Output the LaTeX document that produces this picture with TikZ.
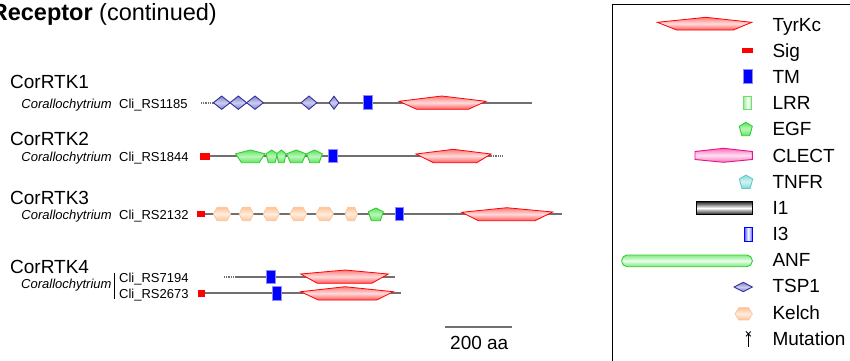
\documentclass[tikz,border=0pt]{standalone}
\usepackage{fontspec}
\setmainfont{Liberation Sans}
\definecolor{bb}{RGB}{112,112,112}
\definecolor{tyrE}{RGB}{255,90,90}
\definecolor{tspD}{RGB}{51,51,153}
\definecolor{tspF}{RGB}{130,130,210}
\definecolor{egfD}{RGB}{51,204,51}
\definecolor{egfF}{RGB}{90,230,90}
\definecolor{kelD}{RGB}{250,195,150}
\definecolor{kelF}{RGB}{255,195,150}
\definecolor{clD}{RGB}{230,20,140}
\definecolor{clF}{RGB}{255,110,190}
\definecolor{tnD}{RGB}{100,200,200}
\definecolor{tnF}{RGB}{130,220,220}
\newcommand{\DomTyr}[9]{\path[tyr] (#1,#2) -- (#3,#4) -- (#5,#6) -- (#8,#9) -- (#7,#9) -- cycle;}
\newcommand{\DomDia}[5]{\path[#5] ({#1-#3/2},#2) -- (#1,{#2-#4/2}) -- ({#1+#3/2},#2) -- (#1,{#2+#4/2}) -- cycle;}
\newcommand{\DomHex}[5]{\path[#5] ({#1-#3/2},#2) -- ({#1-0.28*#3},{#2-#4/2}) -- ({#1+0.28*#3},{#2-#4/2}) -- ({#1+#3/2},#2) -- ({#1+0.28*#3},{#2+#4/2}) -- ({#1-0.28*#3},{#2+#4/2}) -- cycle;}
\newcommand{\DomPent}[5]{\path[#5] (#1,{#2-#4/2}) -- ({#1+#3/2},{#2-0.2*#4}) -- ({#1+0.3*#3},{#2+#4/2}) -- ({#1-0.3*#3},{#2+#4/2}) -- ({#1-#3/2},{#2-0.2*#4}) -- cycle;}
\tikzset{
  backbone/.style={draw=bb, line width=1.9},
  dotbone/.style={draw=bb, line width=1.6, dash pattern=on 0.9pt off 0.9pt},
  tyr/.style={draw=red, line width=0.8, top color=tyrE!80, bottom color=tyrE, middle color=red!14},
  tsp/.style={draw=tspD, line width=0.9, top color=tspF, bottom color=tspF, middle color=tspF!40},
  egf/.style={draw=egfD, line width=0.9, top color=egfF, bottom color=egfF, middle color=egfF!40},
  kel/.style={draw=kelD, line width=0.7, top color=kelF, bottom color=kelF, middle color=kelF!30},
  tm/.style={fill=blue, draw=blue!45, line width=0.5},
  sig/.style={fill=red},
  lab/.style={inner sep=0pt, font=\fontsize{19}{22}\selectfont},
  small/.style={inner sep=0pt, font=\fontsize{13}{15}\selectfont},
  legtext/.style={inner sep=0pt, anchor=base west, font=\fontsize{19}{22}\selectfont},
}
\begin{document}
\begin{tikzpicture}[x=1pt,y=-1pt]
\useasboundingbox (0,0) rectangle (850,360);

% heading
\node[inner sep=0pt, anchor=base east, font=\fontsize{23.5}{27}\selectfont] (head) at (217,20) {\textbf{Receptor} (continued)};

% ---------- row 1
\node[lab, anchor=base west] (t1) at (10,88) {CorRTK1};
\node[small, anchor=base east] (s1) at (112,108) {\textit{Corallochytrium}};
\node[small, anchor=base west] (c1) at (119,108) {Cli\_RS1185};
\path[dotbone] (201,102.7) -- (213,102.7);
\path[backbone] (213,102.7) -- (532,102.7);
\DomDia{221.7}{102.7}{16.7}{13.3}{tsp}
\DomDia{238.3}{102.7}{16.7}{13.3}{tsp}
\DomDia{255}{102.7}{16.7}{13.3}{tsp}
\DomDia{309}{102.7}{15.7}{13.3}{tsp}
\DomDia{334}{102.7}{9.7}{13}{tsp}
\path[tm] (363.3,95.7) rectangle (372,109.3);
\DomTyr{399}{101.3}{441.7}{96}{486}{101.3}{416.7}{468.3}{109.3}

% ---------- row 2
\node[lab, anchor=base west] (t2) at (10,145) {CorRTK2};
\node[small, anchor=base east] (s2) at (112,161) {\textit{Corallochytrium}};
\node[small, anchor=base west] (c2) at (119,161) {Cli\_RS1844};
\path[backbone] (205,156) -- (491,156);
\path[dotbone] (491,156) -- (503,156);
\path[sig] (200,152.7) rectangle (210,160);
\DomPent{250.3}{156.35}{29.3}{12.7}{egf}
\DomPent{271.7}{156.35}{11.3}{12.7}{egf}
\DomPent{281.3}{156.35}{9.3}{12.7}{egf}
\DomPent{296.3}{156.35}{19.3}{12.7}{egf}
\DomPent{314.5}{156.35}{15.6}{12.7}{egf}
\path[tm] (328,149.3) rectangle (337,162.7);
\DomTyr{416}{154}{453.3}{149.3}{491}{154}{433.3}{476.7}{162.7}

% ---------- row 3
\node[lab, anchor=base west] (t3) at (10,204) {CorRTK3};
\node[small, anchor=base east] (s3) at (112,219) {\textit{Corallochytrium}};
\node[small, anchor=base west] (c3) at (119,219) {Cli\_RS2132};
\path[backbone] (202,213.7) -- (562.3,213.7);
\path[sig] (197.3,210.7) rectangle (205,217.3);
\DomHex{222}{214}{17.4}{13.4}{kel}
\DomHex{246.3}{214}{14}{13.4}{kel}
\DomHex{271.3}{214}{16}{13.4}{kel}
\DomHex{298.3}{214}{16.7}{13.4}{kel}
\DomHex{324.7}{214}{17.3}{13.4}{kel}
\DomHex{351.2}{214}{12.3}{13.4}{kel}
\DomPent{375.8}{214.35}{15}{12.7}{egf}
\path[tm] (395,207.3) rectangle (403.7,220.7);
\DomTyr{461.7}{212.3}{506.7}{207.7}{552.7}{212}{478.3}{535}{220.7}

% ---------- row 4
\node[lab, anchor=base west] (t4) at (10,273.3) {CorRTK4};
\node[small, anchor=base east] (s4) at (111.7,288.3) {\textit{Corallochytrium}};
\coordinate (bartop) at (114.3,272.7);
\coordinate (barbot) at (114.3,299.3);
\draw[line width=1.1] (bartop) -- (barbot);
\node[small, anchor=base west] (c4a) at (119,282) {Cli\_RS7194};
\node[small, anchor=base west] (c4b) at (119,298.3) {Cli\_RS2673};
\path[dotbone] (224,276.7) -- (236,276.7);
\path[backbone] (236,276.7) -- (395,276.7);
\path[tm] (266,270) rectangle (275,283.3);
\DomTyr{300.7}{274}{345}{270}{388.3}{274}{317.3}{371.7}{283.3}
\path[backbone] (203,293.3) -- (400.7,293.3);
\path[sig] (198.3,290) rectangle (205,296.7);
\path[tm] (272.7,286.7) rectangle (281.7,300);
\DomTyr{300.7}{291.7}{345}{286.7}{393.3}{291.7}{318.3}{376.7}{300}

% scale bar
\coordinate (sbl) at (445,326.7);
\coordinate (sbr) at (511.7,326.7);
\draw[bb, line width=2] (sbl) -- (sbr);
\node[lab, anchor=base west] (sbt) at (450,349.3) {200 aa};

% ---------- legend
\draw[line width=1.4] (612.7,362) -- (612.7,4.7) -- (852,4.7);
\DomTyr{657.3}{22.3}{706}{17.3}{751.7}{22.3}{676.7}{733.3}{30}
\node[legtext] (l1) at (772.3,31.3) {TyrKc};
\path[sig] (741.7,47.7) rectangle (752.7,53.3);
\node[legtext] (l2) at (772.3,57.5) {Sig};
\path[tm] (743.3,69.3) rectangle (752.3,83.3);
\node[legtext] (l3) at (772.3,83.6) {TM};
\path[draw=egfD!70, line width=0.8, left color=egfF!60, right color=egfF!60, middle color=white] (743.8,96.7) rectangle (751.8,109.3);
\node[legtext] (l4) at (772.3,109.8) {LRR};
\DomPent{745.8}{129}{13}{13.4}{egf}
\node[legtext] (l5) at (772.3,135.9) {EGF};
\path[draw=clD, line width=0.9, top color=clF, bottom color=clF, middle color=clF!20] (695,151.5) -- (723.5,148.3) -- (752.3,151.5) -- (752.3,159.5) -- (723.5,162.3) -- (695,159.5) -- cycle;
\node[legtext] (l6) at (772.3,162) {CLECT};
\DomPent{746}{181.7}{13.4}{13.3}{draw=tnD, line width=0.9, top color=tnF, bottom color=tnF, middle color=tnF!35}
\node[legtext] (l7) at (772.3,188.2) {TNFR};
\path[draw=black, line width=0.9, top color=black!85, bottom color=black!85, middle color=white] (696,201.7) rectangle (752.3,214.3);
\node[legtext] (l8) at (772.3,214.4) {I1};
\path[draw=blue, line width=0.9, left color=blue!65, right color=blue!65, middle color=white] (744.3,227.7) rectangle (752.3,241);
\node[legtext] (l9) at (772.3,240.5) {I3};
\path[draw=egfD, line width=0.9, rounded corners=5.5, top color=egfF!75, bottom color=egfF!85, middle color=egfF!12] (621.7,255) rectangle (752.3,266.7);
\node[legtext] (l10) at (772.3,266.7) {ANF};
\DomDia{743.2}{287}{18.3}{9.4}{tsp}
\node[legtext] (l11) at (772.3,292.8) {TSP1};
\DomHex{743.7}{313.8}{17.3}{12.3}{kel}
\node[legtext] (l12) at (772.3,319) {Kelch};
\coordinate (mutb) at (748.3,346.7);
\coordinate (mutt) at (748.3,334);
\draw[line width=1] (mutb) -- (mutt);
\draw[line width=0.9] (745.9,331.5) -- (750.7,336.3) (750.7,331.5) -- (745.9,336.3);
\node[legtext] (l13) at (772.3,345.1) {Mutation};
\end{tikzpicture}
\end{document}
